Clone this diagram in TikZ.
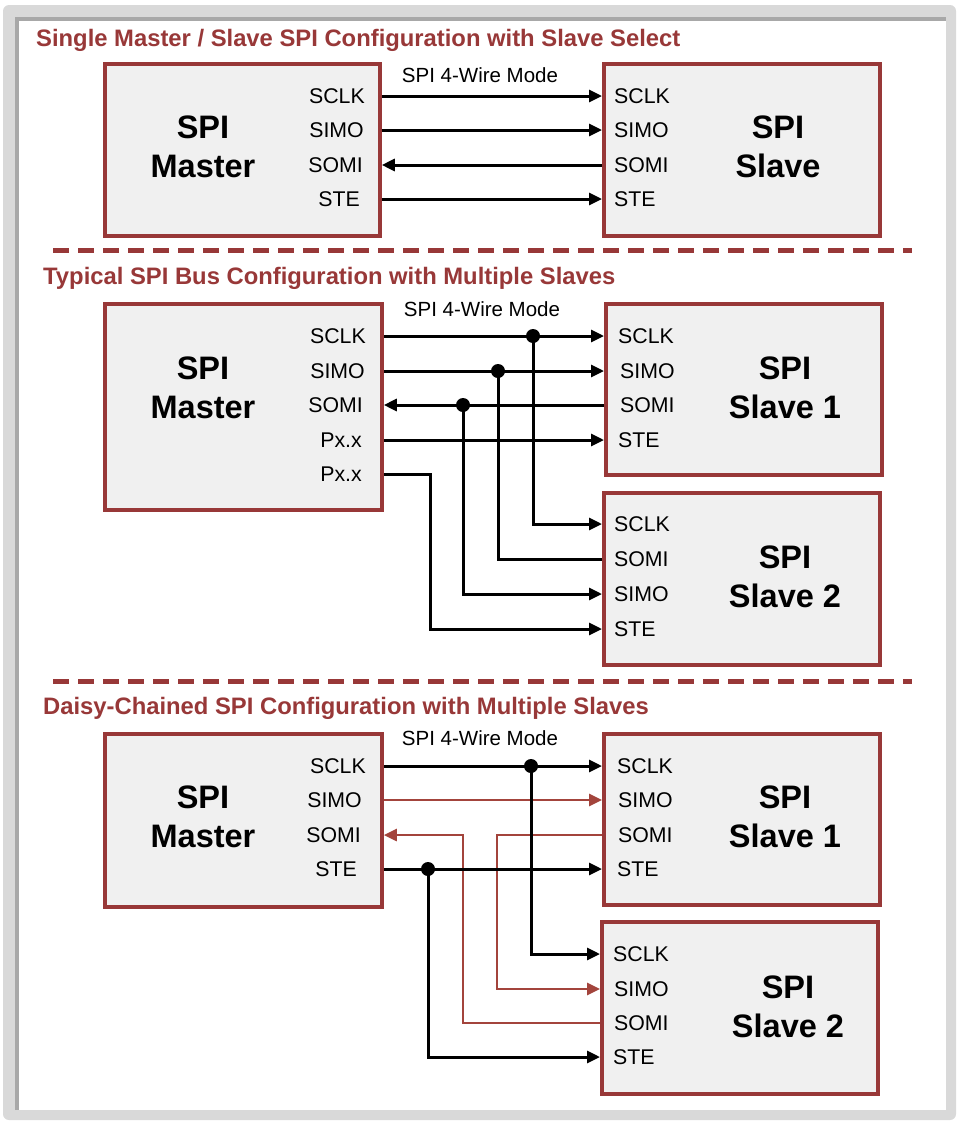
\documentclass[tikz,border=0pt]{standalone}
\usepackage{fontspec}
\setmainfont{Liberation Sans}
\usetikzlibrary{arrows.meta}
\definecolor{dred}{HTML}{983838}
\definecolor{wred}{HTML}{A3443C}
\definecolor{boxfill}{HTML}{F0F0F0}
\definecolor{frameout}{HTML}{D9D9D9}
\definecolor{frameline}{HTML}{A8A8A8}
\begin{document}
\begin{tikzpicture}[x=1pt,y=-1pt,
  box/.style={draw=dred, line width=3.8pt, fill=boxfill, anchor=north west, inner sep=0pt},
  pin/.style={font=\fontsize{21.3}{21.3}\selectfont, inner sep=0pt},
  big/.style={font=\bfseries\fontsize{32.5}{39}\selectfont, align=center, inner sep=0pt},
  ttl/.style={font=\bfseries\fontsize{23.8}{26}\selectfont, text=dred, anchor=west, inner sep=0pt},
  mode/.style={font=\fontsize{20.5}{20.5}\selectfont, inner sep=0pt},
  wire/.style={line width=3pt, black},
  rwire/.style={line width=2.6pt, wred},
  arr/.style={-{Triangle[length=13pt,width=12pt]}},
  dot/.style={circle, fill=black, inner sep=0pt, minimum size=14pt},
  sepline/.style={dred, line width=5pt, dash pattern=on 16pt off 9pt}
]
\useasboundingbox (0,0) rectangle (958,1122);
% frame
\fill[frameout, rounded corners=6pt] (3,5) rectangle (956,1120);
\fill[white] (19,21) rectangle (946,1110);
\draw[frameline, line width=4pt] (17,1110) -- (17,19) -- (946,19);

% ---------- Section 1 ----------
\node[ttl] (t1) at (36,40) {Single Master / Slave SPI Configuration with Slave Select};
\node[box, minimum width=275pt, minimum height=172pt] (m1) at (103,62) {};
\node[box, minimum width=276pt, minimum height=172pt] (s1) at (602,62) {};
\node[big] (m1l) at (203,147) {SPI\\Master};
\node[big] (s1l) at (778,147) {SPI\\Slave};
\node[mode] (mode1) at (480,75) {SPI 4-Wire Mode};
\node[pin, anchor=east] (a1) at (365,96) {SCLK};
\node[pin, anchor=east] (a2) at (364,130) {SIMO};
\node[pin, anchor=east] (a3) at (363,165) {SOMI};
\node[pin, anchor=east] (a4) at (360,199) {STE};
\node[pin, anchor=west] (b1) at (614,96) {SCLK};
\node[pin, anchor=west] (b2) at (614,130) {SIMO};
\node[pin, anchor=west] (b3) at (614,165) {SOMI};
\node[pin, anchor=west] (b4) at (614,199) {STE};
\draw[wire, arr] (m1.east |- a1) -- (s1.west |- a1);
\draw[wire, arr] (m1.east |- a2) -- (s1.west |- a2);
\draw[wire, arr] (s1.west |- a3) -- (m1.east |- a3);
\draw[wire, arr] (m1.east |- a4) -- (s1.west |- a4);

\draw[sepline] (53,250) -- (912,250);

% ---------- Section 2 ----------
\node[ttl] (t2) at (43,278) {Typical SPI Bus Configuration with Multiple Slaves};
\node[box, minimum width=277pt, minimum height=206pt] (m2) at (103,302) {};
\node[box, minimum width=276pt, minimum height=171pt] (s21) at (604,302) {};
\node[box, minimum width=276pt, minimum height=172pt] (s22) at (602,491) {};
\node[big] (m2l) at (203,388) {SPI\\Master};
\node[big] (s21l) at (785,388) {SPI\\Slave 1};
\node[big] (s22l) at (785,577) {SPI\\Slave 2};
\node[mode] (mode2) at (482,309) {SPI 4-Wire Mode};
\node[pin, anchor=east] (c1) at (366,336) {SCLK};
\node[pin, anchor=east] (c2) at (365,371) {SIMO};
\node[pin, anchor=east] (c3) at (363,405) {SOMI};
\node[pin, anchor=east] (c4) at (362,440) {Px.x};
\node[pin, anchor=east] (c5) at (362,474) {Px.x};
\node[pin, anchor=west] (e1) at (618,336) {SCLK};
\node[pin, anchor=west] (e2) at (620,371) {SIMO};
\node[pin, anchor=west] (e3) at (620,405) {SOMI};
\node[pin, anchor=west] (e4) at (618,440) {STE};
\node[pin, anchor=west] (f1) at (614,524) {SCLK};
\node[pin, anchor=west] (f2) at (614,559) {SOMI};
\node[pin, anchor=west] (f3) at (614,594) {SIMO};
\node[pin, anchor=west] (f4) at (614,629) {STE};
\draw[wire, arr] (m2.east |- c1) -- (s21.west |- c1);
\draw[wire, arr] (m2.east |- c2) -- (s21.west |- c2);
\draw[wire, arr] (s21.west |- c3) -- (m2.east |- c3);
\draw[wire, arr] (m2.east |- c4) -- (s21.west |- c4);
\node[dot] (d21) at (533,336) {};
\node[dot] (d22) at (498,371) {};
\node[dot] (d23) at (463,405) {};
\coordinate (k2) at (430,474);
\draw[wire, arr] (d21.center) |- (s22.west |- f1);
\draw[wire] (d22.center) |- (s22.west |- f2);
\draw[wire, arr] (d23.center) |- (s22.west |- f3);
\draw[wire, arr] (m2.east |- c5) -- (k2) |- (s22.west |- f4);

\draw[sepline] (53,681) -- (912,681);

% ---------- Section 3 ----------
\node[ttl] (t3) at (43,708) {Daisy-Chained SPI Configuration with Multiple Slaves};
\node[box, minimum width=277pt, minimum height=173pt] (m3) at (103,732) {};
\node[box, minimum width=276pt, minimum height=171pt] (s31) at (602,732) {};
\node[box, minimum width=276pt, minimum height=172pt] (s32) at (600,920) {};
\node[big] (m3l) at (203,817) {SPI\\Master};
\node[big] (s31l) at (785,817) {SPI\\Slave 1};
\node[big] (s32l) at (788,1007) {SPI\\Slave 2};
\node[mode] (mode3) at (480,738) {SPI 4-Wire Mode};
\node[pin, anchor=east] (g1) at (366,766) {SCLK};
\node[pin, anchor=east] (g2) at (362,800) {SIMO};
\node[pin, anchor=east] (g3) at (361,835) {SOMI};
\node[pin, anchor=east] (g4) at (357,869) {STE};
\node[pin, anchor=west] (h1) at (617,766) {SCLK};
\node[pin, anchor=west] (h2) at (618,800) {SIMO};
\node[pin, anchor=west] (h3) at (618,835) {SOMI};
\node[pin, anchor=west] (h4) at (617,869) {STE};
\node[pin, anchor=west] (i1) at (613,954) {SCLK};
\node[pin, anchor=west] (i2) at (614,989) {SIMO};
\node[pin, anchor=west] (i3) at (614,1023) {SOMI};
\node[pin, anchor=west] (i4) at (613,1057) {STE};
\coordinate (k31) at (497,0);
\coordinate (k32) at (463,0);
\draw[rwire, arr] (s31.west |- h3) -- (k31 |- h3) -- (k31 |- i2) -- (s32.west |- i2);
\draw[rwire, arr] (s32.west |- i3) -- (k32 |- i3) -- (k32 |- g3) -- (m3.east |- g3);
\draw[rwire, arr] (m3.east |- g2) -- (s31.west |- g2);
\draw[wire, arr] (m3.east |- g1) -- (s31.west |- g1);
\draw[wire, arr] (m3.east |- g4) -- (s31.west |- g4);
\node[dot] (d31) at (531,766) {};
\node[dot] (d32) at (428,869) {};
\draw[wire, arr] (d31.center) |- (s32.west |- i1);
\draw[wire, arr] (d32.center) |- (s32.west |- i4);
\end{tikzpicture}
\end{document}
